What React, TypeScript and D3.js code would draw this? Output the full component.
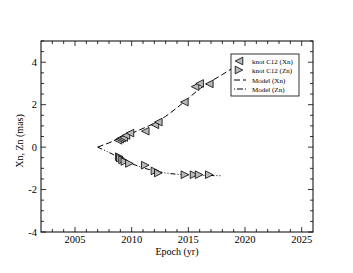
import React from "react";
import * as d3 from "d3";

const xnYears = [2008.8, 2008.95, 2009.1, 2009.3, 2009.5, 2009.85, 2011.2, 2012.05, 2012.35, 2014.65, 2015.6, 2016.0, 2016.85];
const xnValues = [0.32, 0.38, 0.42, 0.45, 0.55, 0.66, 0.75, 1.05, 1.18, 2.12, 2.85, 3.0, 2.98];
const znYears = [2008.9, 2009.0, 2009.2, 2009.4, 2009.8, 2011.2, 2012.05, 2012.35, 2014.7, 2015.5, 2015.95, 2016.85];
const znValues = [-0.45, -0.52, -0.6, -0.68, -0.77, -0.85, -1.12, -1.22, -1.3, -1.3, -1.3, -1.3];
const modelYears = [2007, 2008, 2009, 2010, 2011, 2012, 2013, 2014, 2015, 2016, 2017, 2018, 2019];
const modelXn = [0, 0.2, 0.42, 0.65, 0.88, 1.12, 1.45, 1.85, 2.3, 2.75, 3.1, 3.42, 3.75];
const modelZn = [0, -0.25, -0.52, -0.78, -0.98, -1.12, -1.22, -1.28, -1.31, -1.33, -1.34, -1.35, -1.36];
const xTicks = [2005, 2010, 2015, 2020, 2025];
const yTicks = [-4, -2, 0, 2, 4];
const legendLabels = ["knot C12 (Xn)", "knot C12 (Zn)", "Model (Xn)", "Model (Zn)"];

const W = 353, H = 273;
const L = 41, R = 313, T = 41, B = 232;
const FONT = "'Liberation Serif', 'DejaVu Serif', serif";

export default function App() {
  const x = d3.scaleLinear().domain([2002, 2026]).range([L, R]);
  const y = d3.scaleLinear().domain([-4, 5]).range([B, T]);
  const line = d3.line<[number, number]>().x(d => x(d[0])).y(d => y(d[1]));
  const xnModel = line(modelYears.map((t, i) => [t, modelXn[i]] as [number, number]).filter(d => d[0] <= 2019));
  const znModel = line(modelYears.map((t, i) => [t, modelZn[i]] as [number, number]).filter(d => d[0] <= 2018.8));

  const xMinor = d3.range(2003, 2026, 1);
  const yMinor = d3.range(-4, 5.01, 0.5);

  const tri = (dir: number) => {
    const s = 3.8;
    return `M${dir * s},0 L${-dir * s},${-s} L${-dir * s},${s} Z`;
  };

  const dashXn = "6,3";
  const dashZn = "5,2,1,2,1,2";

  const lgX = 231, lgY = 54, lgW = 68, lgH = 42;
  const rowY = [61, 70, 80, 89];

  return (
    <svg width={W} height={H} style={{ position: "absolute", left: 0, top: 0, background: "#fff" }}>
      <rect x={0} y={0} width={W} height={H} fill="#fff" />
      {xMinor.map(t => {
        const major = t % 5 === 0;
        const len = major ? 5 : 3;
        return (
          <g key={"xt" + t} stroke="#000" strokeWidth={0.8}>
            <line x1={x(t)} x2={x(t)} y1={B} y2={B - len} />
            <line x1={x(t)} x2={x(t)} y1={T} y2={T + len} />
          </g>
        );
      })}
      {yMinor.map(v => {
        const major = Math.abs(v % 2) < 1e-9;
        const len = major ? 5 : 3;
        return (
          <g key={"yt" + v} stroke="#000" strokeWidth={0.8}>
            <line x1={L} x2={L + len} y1={y(v)} y2={y(v)} />
            <line x1={R} x2={R - len} y1={y(v)} y2={y(v)} />
          </g>
        );
      })}
      <path d={xnModel || ""} fill="none" stroke="#000" strokeWidth={1} strokeDasharray={dashXn} />
      <path d={znModel || ""} fill="none" stroke="#000" strokeWidth={1} strokeDasharray={dashZn} />
      {xnYears.map((t, i) => (
        <path key={"xn" + i} d={tri(-1)} transform={`translate(${x(t)},${y(xnValues[i])})`} fill="#b8b8b8" stroke="#000" strokeWidth={0.8} />
      ))}
      {znYears.map((t, i) => (
        <path key={"zn" + i} d={tri(1)} transform={`translate(${x(t)},${y(znValues[i])})`} fill="#b8b8b8" stroke="#000" strokeWidth={0.8} />
      ))}
      <rect x={L} y={T} width={R - L} height={B - T} fill="none" stroke="#000" strokeWidth={1} />
      {xTicks.map(t => (
        <text key={"xl" + t} x={x(t)} y={243} textAnchor="middle" fontFamily={FONT} fontSize={10.5}>{t}</text>
      ))}
      {yTicks.map(v => (
        <text key={"yl" + v} x={37} y={y(v) + 3.5} textAnchor="end" fontFamily={FONT} fontSize={10.5}>{v}</text>
      ))}
      <text x={177} y={255} textAnchor="middle" fontFamily={FONT} fontSize={10}>Epoch (yr)</text>
      <text transform={`translate(23,141) rotate(-90)`} textAnchor="middle" fontFamily={FONT} fontSize={10}>Xn, Zn (mas)</text>
      <rect x={lgX} y={lgY} width={lgW} height={lgH} fill="#fff" stroke="#000" strokeWidth={0.8} />
      <path d={tri(-1)} transform={`translate(239,${rowY[0]})`} fill="#b8b8b8" stroke="#000" strokeWidth={0.8} />
      <path d={tri(1)} transform={`translate(239,${rowY[1]})`} fill="#b8b8b8" stroke="#000" strokeWidth={0.8} />
      <line x1={234} x2={246} y1={rowY[2]} y2={rowY[2]} stroke="#000" strokeWidth={1} strokeDasharray={dashXn} />
      <line x1={234} x2={246} y1={rowY[3]} y2={rowY[3]} stroke="#000" strokeWidth={1} strokeDasharray="1,2,6,2" />
      {legendLabels.map((s, i) => (
        <text key={"lg" + i} x={252} y={rowY[i] + 2.5} fontFamily={FONT} fontSize={7}>{s}</text>
      ))}
    </svg>
  );
}
